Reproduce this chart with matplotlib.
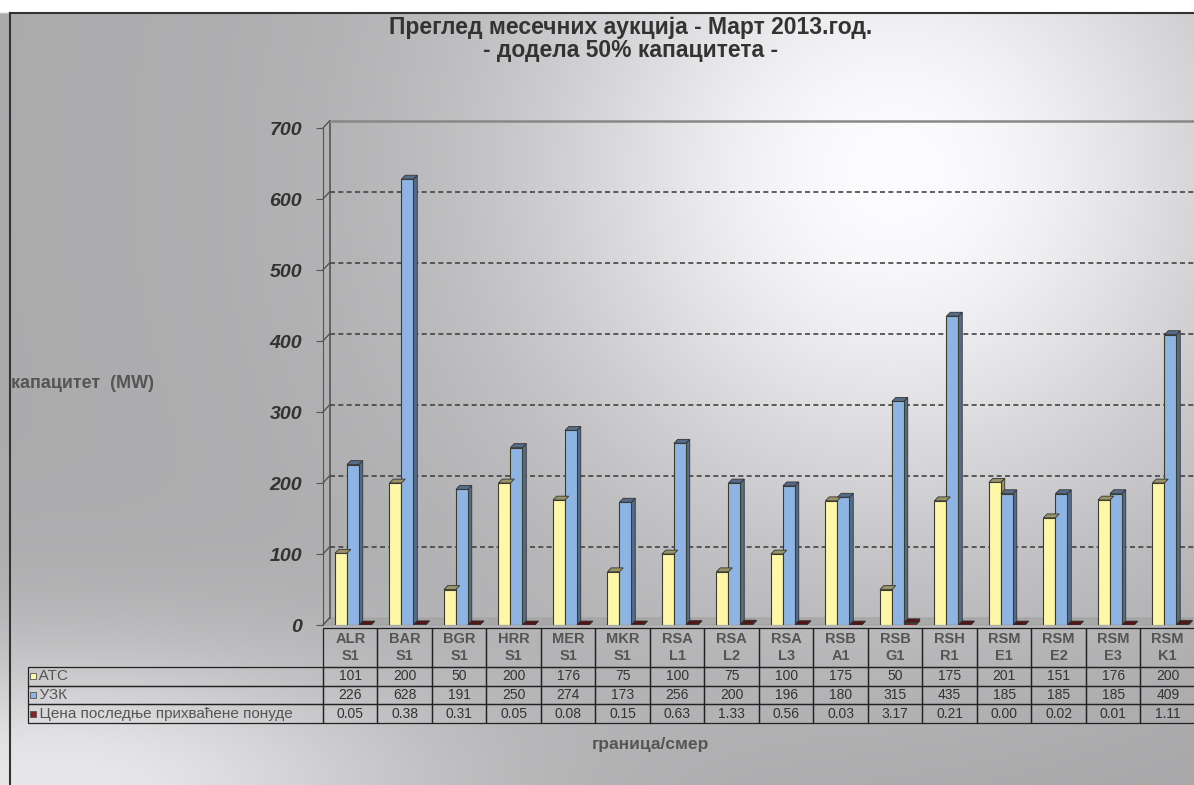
import numpy as np
import matplotlib.pyplot as plt
from matplotlib.patches import Polygon

plt.rcParams['font.family'] = ['Liberation Sans', 'DejaVu Sans']

categories = ['ALR\nS1', 'BAR\nS1', 'BGR\nS1', 'HRR\nS1', 'MER\nS1', 'MKR\nS1',
              'RSA\nL1', 'RSA\nL2', 'RSA\nL3', 'RSB\nA1', 'RSB\nG1', 'RSH\nR1',
              'RSM\nE1', 'RSM\nE2', 'RSM\nE3', 'RSM\nK1']
atc = [101, 200, 50, 200, 176, 75, 100, 75, 100, 175, 50, 175, 201, 151, 176, 200]
uzk = [226, 628, 191, 250, 274, 173, 256, 200, 196, 180, 315, 435, 185, 185, 185, 409]
price = [0.05, 0.38, 0.31, 0.05, 0.08, 0.15, 0.63, 1.33, 0.56, 0.03, 3.17, 0.21,
         0.00, 0.02, 0.01, 1.11]
row_labels = ['ATC', 'УЗК', 'Цена последње прихваћене понуде']
series_colors = ['#fff7a8', '#8eb4e3', '#8b2323']
yticks = [0, 100, 200, 300, 400, 500, 600, 700]

fig = plt.figure(figsize=(11.94, 7.85), dpi=100)

# background gradient
bg = fig.add_axes([0, 0, 1, 1])
gx, gy = np.meshgrid(np.linspace(0, 1, 400), np.linspace(0, 1, 300))
v = 0.68 + 0.32 * np.exp(-((gx - 0.75) ** 2 / 0.10 + (gy - 0.22) ** 2 / 0.22))
v += 0.24 * np.exp(-((gx - 0.05) ** 2 / 0.10 + (gy - 1.0) ** 2 / 0.03))
v -= 0.06 * np.clip(gy - 0.6, 0, 1) * gx
v = np.clip(v, 0, 1)
rgb = np.dstack([v * 0.99, v * 0.99, v])
rgb[:5, :, :] = 1.0
bg.imshow(rgb, extent=[0, 1, 0, 1], origin='upper', aspect='auto')
bg.plot([0.008, 1], [0.983, 0.983], color='#333333', lw=1.5)
bg.plot([0.008, 0.008], [0.983, 0], color='#333333', lw=1.5)
bg.set_xlim(0, 1)
bg.set_ylim(0, 1)
bg.axis('off')

ax = fig.add_axes([0.2705, 0.2038, 0.7303, 0.6331])
ax.patch.set_alpha(0)
n = len(categories)
x = np.arange(n)
w = 0.22
offs = [-0.17, 0.05, 0.27]
dx, dy = 0.07, 5.5
wx, wy = 0.12, 10

# floor and back wall
ax.fill([-0.5, n - 0.5, n - 0.5 + wx, -0.5 + wx], [0, 0, wy, wy],
        color='#a0a0a0', alpha=0.6, zorder=1, clip_on=False)
ax.plot([-0.5 + wx, -0.5 + wx], [wy, yticks[-1] + wy], color='#555555', lw=1.2,
        clip_on=False, zorder=1)
ax.plot([-0.5 + wx, n], [yticks[-1] + wy] * 2, color='#888888', lw=1.8,
        clip_on=False, zorder=1)
ax.hlines([t + wy for t in yticks[1:-1]], -0.5 + wx, n, colors='#444444',
          linestyles=(0, (3, 2)), lw=1.2, zorder=1)
for t in yticks:
    ax.plot([-0.5, -0.5 + wx], [t, t + wy], color='#555555', lw=1, clip_on=False)

for vals, off, col in zip([atc, uzk, price], offs, series_colors):
    ax.bar(x + off, vals, w, color=col, edgecolor='#3d3d2d', lw=0.8, zorder=3)
    dark = tuple(c * 0.6 for c in plt.matplotlib.colors.to_rgb(col))
    for xi, val in zip(x + off, vals):
        r = xi + w / 2
        l = xi - w / 2
        ax.add_patch(Polygon([[r, 0], [r + dx, dy], [r + dx, val + dy], [r, val]],
                             closed=True, fc=dark, ec='#333333', lw=0.6, zorder=2))
        ax.add_patch(Polygon([[l, val], [l + dx, val + dy], [r + dx, val + dy], [r, val]],
                             closed=True, fc=dark, ec='#333333', lw=0.6, zorder=4))

ax.set_xlim(-0.5, n - 0.5)
ax.set_ylim(0, 700)
ax.set_yticks(yticks)
ax.set_yticklabels([str(t) for t in yticks], fontsize=14,
                   fontweight='bold', style='italic', color='#333333')
ax.set_xticks([])
for s in ['right', 'bottom', 'top']:
    ax.spines[s].set_visible(False)
ax.spines['left'].set_color('#555555')
ax.tick_params(axis='y', length=5, color='#555555', pad=10)

# data table
cell_text = [[''] + [c for c in categories]]
cell_text.append(['  ' + row_labels[0]] + [str(v) for v in atc])
cell_text.append(['  ' + row_labels[1]] + [str(v) for v in uzk])
cell_text.append(['  ' + row_labels[2]] + ['%.2f' % v for v in price])
L = (323 - 28) / 872
col_w = [L] + [1.0 / n] * n
tab = ax.table(cellText=cell_text, colWidths=col_w, cellLoc='center',
               bbox=[-L, -0.197, 1 + L, 0.191])
tab.auto_set_font_size(False)
tab.set_fontsize(10)
for (r, c), cell in tab.get_celld().items():
    cell.set_facecolor('none')
    cell.set_edgecolor('#222222')
    cell.set_linewidth(0.9)
    cell.get_text().set_color('#333333')
    if r == 0:
        cell.set_height(cell.get_height() * 2.1)
        cell.get_text().set_fontsize(10.5)
        cell.get_text().set_fontweight('bold')
        cell.get_text().set_color('#555555')
        if c == 0:
            cell.visible_edges = ''
    if c == 0 and r > 0:
        cell.get_text().set_ha('left')
        cell._loc = 'left'
        cell.PAD = 0.01
        cell.get_text().set_fontsize(11)
        cell.get_text().set_color('#555555')

# legend keys beside row labels
row_h = 0.191 / (3 + 2.1)
for i, col in enumerate(series_colors):
    yc = -0.197 + row_h * (2.5 - i)
    ax.scatter([-L + 0.006], [yc], marker='s', s=22, color=col, edgecolors='#555555',
               linewidths=0.6, transform=ax.transAxes, clip_on=False, zorder=6)

fig.text(0.528, 0.980, 'Преглед месечних аукција - Март 2013.год.\n- додела 50% капацитета -',
         ha='center', va='top', fontsize=16.5, fontweight='bold', color='#333333',
         linespacing=1.0)
fig.text(0.009, 0.512, 'капацитет  (MW)', ha='left', va='center', fontsize=13,
         fontweight='bold', color='#555555')
fig.text(0.545, 0.051, 'граница/смер', ha='center', va='center', fontsize=12.5,
         fontweight='bold', color='#555555')

fig.savefig('out.png', dpi=100)
